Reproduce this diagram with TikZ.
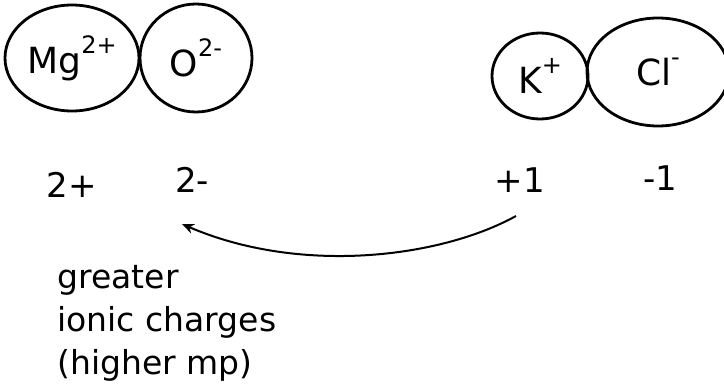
\documentclass[tikz,border=0pt]{standalone}
\usepackage{fontspec}
\setmainfont{DejaVu Sans}
\usetikzlibrary{shapes.geometric,arrows.meta}
\newcommand{\sups}[1]{\raisebox{0.55em}{\fontsize{24}{24}\selectfont #1}}
\begin{document}
\begin{tikzpicture}[x=1pt,y=-1pt,
  ion/.style={draw,ellipse,line width=2.8pt,inner sep=0pt,font=\fontsize{36}{38}\selectfont},
  chg/.style={font=\fontsize{34}{36}\selectfont},
  note/.style={font=\fontsize{33}{43}\selectfont,align=left,anchor=north west}]
\useasboundingbox (0,0) rectangle (724,390);
\node[ion,minimum width=134pt,minimum height=106pt] (mg) at (72,58) {Mg\sups{2+}};
\node[ion,minimum width=112pt,minimum height=108pt] (o) at (196,58) {O\sups{2-}};
\node[ion,minimum width=96pt,minimum height=86pt] (k) at (540,76) {K\sups{+}};
\node[ion,minimum width=142pt,minimum height=108pt] (cl) at (658,72) {Cl\sups{-}};
\node[chg] (c1) at (72,185) {2+};
\node[chg] (c2) at (192,180) {2-};
\node[chg] (c3) at (520,180) {+1};
\node[chg] (c4) at (660,178) {-1};
\coordinate (s) at (516,216);
\coordinate (e) at (182,224);
\draw[line width=2pt,-{Stealth[length=12pt,width=10pt]}] (s) .. controls (440,258) and (300,275) .. (e);
\node[note] (t) at (54,262) {greater\\ionic charges\\(higher mp)};
\end{tikzpicture}
\end{document}
